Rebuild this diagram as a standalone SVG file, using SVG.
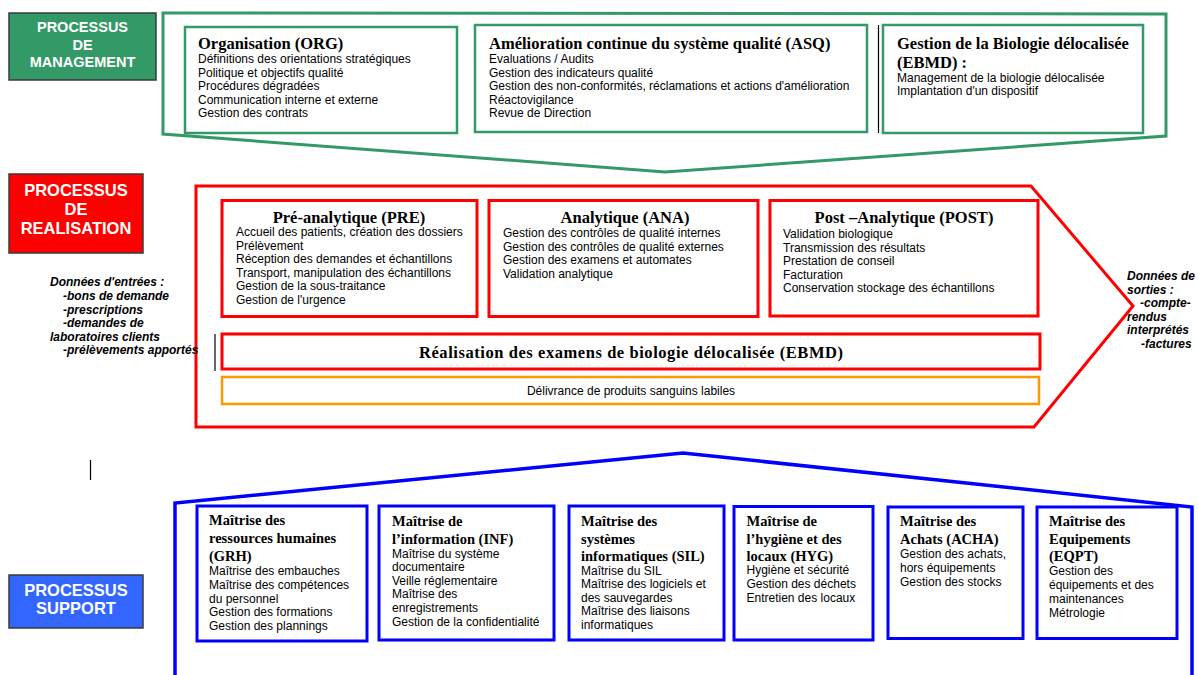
<svg xmlns="http://www.w3.org/2000/svg" width="1198" height="675" viewBox="0 0 1198 675">
<style>
.lbl{font-family:"Liberation Sans",Arial,sans-serif;font-weight:bold;fill:#fff;text-anchor:middle}
.lblbox{stroke:#3a3a3a;stroke-width:1.5}
.g{fill:none;stroke:#339966;stroke-width:3;stroke-linejoin:miter}
.gb{fill:#fff;stroke:#339966;stroke-width:2.5}
.r{fill:none;stroke:#ff0000;stroke-width:3}
.rb{fill:#fff;stroke:#ff0000;stroke-width:3}
.ob{fill:#fff;stroke:#ff9900;stroke-width:2.5}
.u{fill:none;stroke:#0000ff;stroke-width:3.5}
.ub{fill:#fff;stroke:#0000ff;stroke-width:3}
.t{font-family:"Liberation Serif","Times New Roman",serif;font-weight:bold;font-size:16.5px;fill:#000}
.tc{text-anchor:middle}
.st{font-family:"Liberation Serif","Times New Roman",serif;font-weight:bold;font-size:14.5px;fill:#000}
.b{font-family:"Liberation Sans",Arial,sans-serif;font-size:12px;fill:#000}
.io{font-family:"Liberation Sans",Arial,sans-serif;font-size:12px;font-weight:bold;font-style:italic;fill:#000}
.k{stroke:#000;stroke-width:1.2}
</style>
<rect width="1198" height="675" fill="#fff"/>

<!-- Frames (large process containers) -->
<g id="frame-management">
  <polygon class="g" points="163,13 1166,14 1166,136 665,172 163,134"/>
</g>
<g id="frame-realisation">
  <polygon class="r" points="196,186 1031,186 1133,306 1034,427 196,427"/>
</g>
<g id="frame-support">
  <polyline class="u" points="175,676 175,503 683,453 1192,507 1192,676"/>
</g>

<!-- Process labels -->
<g id="label-management">
  <rect class="lblbox" x="9" y="13" width="147" height="67" fill="#339966"/>
  <text class="lbl" font-size="14.5"><tspan x="82.5" y="31.5">PROCESSUS</tspan><tspan x="82.5" y="49.5">DE</tspan><tspan x="82.5" y="67">MANAGEMENT</tspan></text>
</g>
<g id="label-realisation">
  <rect class="lblbox" x="9" y="174" width="134" height="79" fill="#ff0000"/>
  <text class="lbl" font-size="16.5"><tspan x="76" y="196">PROCESSUS</tspan><tspan x="76" y="215">DE</tspan><tspan x="76" y="234">REALISATION</tspan></text>
</g>
<g id="label-support">
  <rect class="lblbox" x="9" y="575" width="134" height="53" fill="#3366ff"/>
  <text class="lbl" font-size="16.5"><tspan x="76" y="596">PROCESSUS</tspan><tspan x="76" y="614">SUPPORT</tspan></text>
</g>

<!-- Management nodes -->
<g id="node-org">
  <rect class="gb" x="185" y="27" width="272" height="106"/>
  <text class="t" x="198" y="49">Organisation (ORG)</text>
  <text class="b"><tspan x="198" y="63">Définitions des orientations stratégiques</tspan><tspan x="198" y="76.5">Politique et objectifs qualité</tspan><tspan x="198" y="90">Procédures dégradées</tspan><tspan x="198" y="103.5">Communication  interne et externe</tspan><tspan x="198" y="117">Gestion des contrats</tspan></text>
</g>
<g id="node-asq">
  <rect class="gb" x="475" y="25" width="392" height="107"/>
  <text class="t" x="489" y="49">Amélioration continue du système qualité (ASQ)</text>
  <text class="b"><tspan x="489" y="63">Evaluations / Audits</tspan><tspan x="489" y="76.5">Gestion des indicateurs qualité</tspan><tspan x="489" y="90">Gestion des non-conformités, réclamations et actions d'amélioration</tspan><tspan x="489" y="103.5">Réactovigilance</tspan><tspan x="489" y="117">Revue de Direction</tspan></text>
</g>
<g id="node-ebmd-management">
  <line class="k" x1="878.5" y1="25" x2="878.5" y2="133"/>
  <rect class="gb" x="883" y="25" width="260" height="108"/>
  <text class="t"><tspan x="897" y="48.5">Gestion de la Biologie délocalisée</tspan><tspan x="897" y="67.5">(EBMD) :</tspan></text>
  <text class="b"><tspan x="897" y="81.5">Management de la biologie délocalisée</tspan><tspan x="897" y="94.5">Implantation d'un dispositif</tspan></text>
</g>

<!-- Realisation nodes -->
<g id="node-pre">
  <rect class="rb" x="222" y="200.5" width="255" height="116"/>
  <text class="t tc" x="349" y="223">Pré-analytique (PRE)</text>
  <text class="b"><tspan x="236" y="236">Accueil des patients, création des dossiers</tspan><tspan x="236" y="249.5">Prélèvement</tspan><tspan x="236" y="263">Réception des demandes et échantillons</tspan><tspan x="236" y="276.5">Transport, manipulation des échantillons</tspan><tspan x="236" y="290">Gestion de la sous-traitance</tspan><tspan x="236" y="303.5">Gestion de l'urgence</tspan></text>
</g>
<g id="node-ana">
  <rect class="rb" x="489" y="200.5" width="269" height="116"/>
  <text class="t tc" x="625" y="223">Analytique (ANA)</text>
  <text class="b"><tspan x="503" y="237">Gestion des contrôles de qualité internes</tspan><tspan x="503" y="250.5">Gestion des contrôles de qualité externes</tspan><tspan x="503" y="264">Gestion des examens et automates</tspan><tspan x="503" y="277.5">Validation analytique</tspan></text>
</g>
<g id="node-post">
  <rect class="rb" x="770" y="200.5" width="268" height="115.5"/>
  <text class="t tc" x="904" y="223">Post –Analytique (POST)</text>
  <text class="b"><tspan x="783" y="238">Validation biologique</tspan><tspan x="783" y="251.5">Transmission des résultats</tspan><tspan x="783" y="265">Prestation de conseil</tspan><tspan x="783" y="278.5">Facturation</tspan><tspan x="783" y="292">Conservation stockage des échantillons</tspan></text>
</g>
<g id="node-ebmd-realisation">
  <line class="k" x1="215" y1="334" x2="215" y2="371"/>
  <rect class="rb" x="222" y="334" width="818" height="35"/>
  <text class="t tc" x="631" y="357.5" font-size="18" textLength="424" lengthAdjust="spacing">Réalisation des examens de biologie délocalisée (EBMD)</text>
</g>
<g id="node-psl">
  <rect class="ob" x="222" y="377" width="817" height="27"/>
  <text class="b" x="631" y="395" text-anchor="middle" font-size="11.5">Délivrance de produits sanguins labiles</text>
</g>

<!-- Inputs / outputs -->
<g id="node-inputs">
  <text class="io"><tspan x="50" y="286">Données d'entrées :</tspan><tspan x="63" y="300">-bons de demande</tspan><tspan x="63" y="313.5">-prescriptions</tspan><tspan x="63" y="327">-demandes de</tspan><tspan x="50" y="340.5">laboratoires clients</tspan><tspan x="63" y="354">-prélèvements apportés</tspan></text>
</g>
<g id="node-outputs">
  <text class="io"><tspan x="1127" y="280">Données de</tspan><tspan x="1127" y="293.5">sorties :</tspan><tspan x="1140" y="307">-compte-</tspan><tspan x="1127" y="320.5">rendus</tspan><tspan x="1127" y="334">interprétés</tspan><tspan x="1141" y="347.5">-factures</tspan></text>
</g>

<!-- Support nodes -->
<g id="node-grh">
  <rect class="ub" x="197" y="506" width="170" height="135"/>
  <text class="st"><tspan x="209" y="525">Maîtrise des</tspan><tspan x="209" y="543">ressources humaines</tspan><tspan x="209" y="560.5">(GRH)</tspan></text>
  <text class="b"><tspan x="209" y="575">Maîtrise des embauches</tspan><tspan x="209" y="589">Maîtrise des compétences</tspan><tspan x="209" y="602.5">du personnel</tspan><tspan x="209" y="616">Gestion des formations</tspan><tspan x="209" y="630">Gestion des plannings</tspan></text>
</g>
<g id="node-inf">
  <rect class="ub" x="379" y="506" width="175" height="134"/>
  <text class="st"><tspan x="392" y="526">Maîtrise de</tspan><tspan x="392" y="543.5">l’information (INF)</tspan></text>
  <text class="b"><tspan x="392" y="557.5">Maîtrise du système</tspan><tspan x="392" y="571">documentaire</tspan><tspan x="392" y="584.5">Veille réglementaire</tspan><tspan x="392" y="598">Maîtrise des</tspan><tspan x="392" y="611.5">enregistrements</tspan><tspan x="392" y="625.5">Gestion de la confidentialité</tspan></text>
</g>
<g id="node-sil">
  <rect class="ub" x="569" y="506" width="155" height="134"/>
  <text class="st"><tspan x="581" y="526">Maîtrise des</tspan><tspan x="581" y="543.5">systèmes</tspan><tspan x="581" y="560.5">informatiques (SIL)</tspan></text>
  <text class="b"><tspan x="581" y="574.5">Maîtrise du SIL</tspan><tspan x="581" y="588">Maîtrise des logiciels et</tspan><tspan x="581" y="601.5">des sauvegardes</tspan><tspan x="581" y="615">Maîtrise des liaisons</tspan><tspan x="581" y="629">informatiques</tspan></text>
</g>
<g id="node-hyg">
  <rect class="ub" x="734" y="506.5" width="139" height="133.5"/>
  <text class="st"><tspan x="746.5" y="526">Maîtrise de</tspan><tspan x="746.5" y="543.5">l’hygiène et des</tspan><tspan x="746.5" y="560.5">locaux  (HYG)</tspan></text>
  <text class="b"><tspan x="746.5" y="574">Hygiène et sécurité</tspan><tspan x="746.5" y="588">Gestion des déchets</tspan><tspan x="746.5" y="601.5">Entretien des locaux</tspan></text>
</g>
<g id="node-acha">
  <rect class="ub" x="888" y="507" width="135" height="131.5"/>
  <text class="st"><tspan x="900" y="526">Maîtrise des</tspan><tspan x="900" y="543.5">Achats (ACHA)</tspan></text>
  <text class="b"><tspan x="900" y="558">Gestion des achats,</tspan><tspan x="900" y="571.5">hors équipements</tspan><tspan x="900" y="585.5">Gestion des stocks</tspan></text>
</g>
<g id="node-eqpt">
  <rect class="ub" x="1037" y="507" width="140" height="131.5"/>
  <text class="st"><tspan x="1049" y="526">Maîtrise des</tspan><tspan x="1049" y="543.5">Equipements</tspan><tspan x="1049" y="560.5">(EQPT)</tspan></text>
  <text class="b"><tspan x="1049" y="575">Gestion des</tspan><tspan x="1049" y="589">équipements et des</tspan><tspan x="1049" y="602.5">maintenances</tspan><tspan x="1049" y="617">Métrologie</tspan></text>
</g>

<g id="connectors">
  <line class="k" x1="90.5" y1="460" x2="90.5" y2="480"/>
</g>
</svg>
